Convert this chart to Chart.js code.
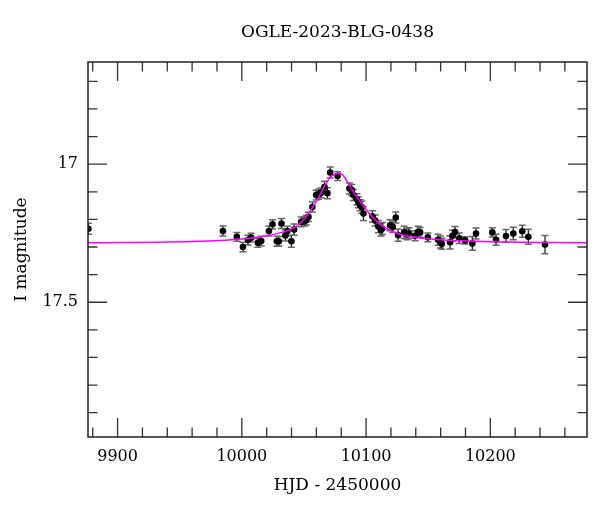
<!DOCTYPE html>
<html><head><meta charset="utf-8">
<script src="https://cdn.jsdelivr.net/npm/chart.js@4/dist/chart.umd.min.js"></script>
<style>html,body{margin:0;padding:0;background:#fff}#wrap{width:600px;height:512px}</style>
</head><body><div id="wrap"><canvas id="c" width="600" height="512"></canvas></div>
<script>
const titleText = 'OGLE-2023-BLG-0438';
const xTitle = 'HJD - 2450000';
const yTitle = 'I magnitude';
const xMajorTicks = [9900, 10000, 10100, 10200];
const xMinorTicks = [9880, 9920, 9940, 9960, 9980, 10020, 10040, 10060, 10080, 10120, 10140, 10160, 10180, 10220, 10240, 10260];
const yMajorTicks = [17, 17.5];
const yMinorTicks = [16.7, 16.8, 16.9, 17.1, 17.2, 17.3, 17.4, 17.6, 17.7, 17.8, 17.9];

const hjd = [9876.5, 9984.8, 9996.0, 10000.9, 10004.9, 10007.5, 10012.9, 10015.6, 10021.8, 10024.7, 10028.2, 10029.8, 10031.9, 10035.1, 10036.7, 10039.9, 10042.1, 10047.8, 10050.4, 10051.8, 10053.6, 10056.8, 10059.8, 10061.7, 10063.8, 10066.5, 10068.9, 10071.1, 10077.1, 10086.6, 10088.5, 10089.8, 10092.6, 10093.8, 10095.2, 10096.6, 10097.9, 10105.1, 10107.3, 10109.9, 10111.9, 10113.1, 10119.3, 10121.5, 10123.9, 10125.8, 10130.6, 10132.8, 10134.6, 10139.4, 10141.9, 10143.5, 10149.7, 10157.9, 10159.8, 10160.9, 10167.6, 10169.6, 10171.6, 10175.0, 10179.7, 10185.5, 10188.5, 10201.6, 10204.6, 10212.6, 10218.5, 10225.7, 10230.6, 10244.0];
const mag = [17.234, 17.242, 17.263, 17.300, 17.275, 17.266, 17.285, 17.278, 17.242, 17.218, 17.279, 17.279, 17.215, 17.258, 17.242, 17.279, 17.237, 17.209, 17.207, 17.203, 17.191, 17.155, 17.112, 17.109, 17.104, 17.082, 17.105, 17.030, 17.043, 17.088, 17.094, 17.112, 17.127, 17.138, 17.149, 17.156, 17.179, 17.189, 17.204, 17.226, 17.238, 17.233, 17.221, 17.227, 17.193, 17.257, 17.247, 17.254, 17.250, 17.259, 17.245, 17.247, 17.265, 17.274, 17.282, 17.288, 17.283, 17.259, 17.246, 17.268, 17.276, 17.287, 17.251, 17.247, 17.274, 17.260, 17.251, 17.243, 17.263, 17.291];
const magErr = [0.020, 0.018, 0.016, 0.017, 0.018, 0.016, 0.016, 0.017, 0.018, 0.017, 0.018, 0.017, 0.018, 0.020, 0.017, 0.022, 0.020, 0.018, 0.017, 0.017, 0.017, 0.018, 0.018, 0.018, 0.018, 0.020, 0.020, 0.020, 0.016, 0.020, 0.020, 0.020, 0.020, 0.020, 0.020, 0.022, 0.025, 0.020, 0.020, 0.022, 0.022, 0.022, 0.020, 0.020, 0.020, 0.022, 0.022, 0.020, 0.020, 0.018, 0.020, 0.018, 0.016, 0.020, 0.022, 0.020, 0.024, 0.020, 0.020, 0.019, 0.013, 0.025, 0.020, 0.017, 0.020, 0.023, 0.023, 0.022, 0.027, 0.033];

const modelHJD = [9876, 9966, 10000, 10020, 10033, 10042, 10048, 10055, 10061, 10066, 10071, 10075, 10078, 10081, 10085, 10092, 10100, 10107, 10116, 10128, 10154, 10194, 10278];
const modelMag = [17.285, 17.279, 17.271, 17.259, 17.246, 17.230, 17.210, 17.170, 17.127, 17.085, 17.048, 17.036, 17.033, 17.038, 17.065, 17.115, 17.164, 17.200, 17.232, 17.255, 17.272, 17.280, 17.285];

const FONT = 'DejaVu Serif';

const framePlugin = {
  id: 'frameAndErrors',
  beforeDatasetsDraw(chart) {
    const {ctx, chartArea: a, scales: {x, y}} = chart;
    ctx.save();
    ctx.beginPath();
    ctx.rect(a.left, a.top, a.right - a.left, a.bottom - a.top);
    ctx.clip();
    for (let i = 0; i < hjd.length; i++) {
      const px = x.getPixelForValue(hjd[i]);
      const y1 = y.getPixelForValue(mag[i] - magErr[i]);
      const y2 = y.getPixelForValue(mag[i] + magErr[i]);
      ctx.strokeStyle = '#111';
      ctx.lineWidth = 1.2;
      ctx.beginPath();
      ctx.moveTo(px, y1); ctx.lineTo(px, y2);
      ctx.stroke();
      ctx.strokeStyle = '#666';
      ctx.lineWidth = 1.5;
      ctx.beginPath();
      ctx.moveTo(px - 3.5, y1); ctx.lineTo(px + 3.5, y1);
      ctx.moveTo(px - 3.5, y2); ctx.lineTo(px + 3.5, y2);
      ctx.stroke();
    }
    ctx.restore();
  },
  afterDraw(chart) {
    const {ctx, chartArea: a, scales: {x, y}} = chart;
    ctx.save();
    ctx.strokeStyle = '#333';
    ctx.lineWidth = 1.3;
    ctx.beginPath();
    const tx = (v, len) => {
      const p = x.getPixelForValue(v);
      ctx.moveTo(p, a.bottom); ctx.lineTo(p, a.bottom - len);
      ctx.moveTo(p, a.top); ctx.lineTo(p, a.top + len);
    };
    const ty = (v, len) => {
      const p = y.getPixelForValue(v);
      ctx.moveTo(a.left, p); ctx.lineTo(a.left + len, p);
      ctx.moveTo(a.right, p); ctx.lineTo(a.right - len, p);
    };
    xMajorTicks.forEach(v => tx(v, 19));
    xMinorTicks.forEach(v => tx(v, 9.5));
    yMajorTicks.forEach(v => ty(v, 19));
    yMinorTicks.forEach(v => ty(v, 9.5));
    ctx.stroke();
    ctx.strokeStyle = '#222';
    ctx.lineWidth = 1.5;
    ctx.strokeRect(a.left, a.top, a.right - a.left, a.bottom - a.top);
    ctx.restore();
  }
};

new Chart(document.getElementById('c'), {
  type: 'scatter',
  data: {
    datasets: [
      {
        type: 'line',
        data: modelHJD.map((v, i) => ({x: v, y: modelMag[i]})),
        borderColor: '#ff00ff',
        borderWidth: 1.5,
        pointRadius: 0,
        cubicInterpolationMode: 'monotone',
        fill: false,
        order: 0,
        clip: 0
      },
      {
        data: hjd.map((v, i) => ({x: v, y: mag[i]})),
        pointRadius: 3.3,
        backgroundColor: '#000',
        borderColor: '#000',
        borderWidth: 0,
        order: 1,
        clip: 0
      }
    ]
  },
  options: {
    responsive: false,
    animation: false,
    devicePixelRatio: 1,
    layout: {padding: {left: 0, right: 13, top: 0, bottom: 0}},
    plugins: {
      legend: {display: false},
      tooltip: {enabled: false},
      title: {
        display: true, text: titleText, fullSize: false, color: '#000',
        font: {family: FONT, size: 17, weight: 'normal', lineHeight: 1.2},
        padding: {top: 22.6, bottom: 19}
      }
    },
    scales: {
      x: {
        type: 'linear', min: 9876.2, max: 10277.8,
        grid: {display: false, drawTicks: false},
        border: {display: false},
        afterBuildTicks: s => { s.ticks = xMajorTicks.map(v => ({value: v})); },
        afterFit: s => { s.height = 75; },
        ticks: {color: '#000', font: {family: FONT, size: 16}, padding: 10, maxRotation: 0, autoSkip: false, callback: v => String(v)},
        title: {display: true, text: xTitle, color: '#000', font: {family: FONT, size: 17, lineHeight: 1.2}, padding: {top: 0, bottom: 16}}
      },
      y: {
        type: 'linear', reverse: true, min: 16.630, max: 17.988,
        grid: {display: false, drawTicks: false},
        border: {display: false},
        afterBuildTicks: s => { s.ticks = yMajorTicks.map(v => ({value: v})); },
        afterFit: s => { s.width = 88; },
        ticks: {color: '#000', font: {family: FONT, size: 16}, padding: 10, autoSkip: false, callback: v => String(v)},
        title: {display: true, text: yTitle, color: '#000', font: {family: FONT, size: 17, lineHeight: 1.2}, padding: {top: 11.2, bottom: 0}}
      }
    }
  },
  plugins: [framePlugin]
});
</script>
</body></html>
